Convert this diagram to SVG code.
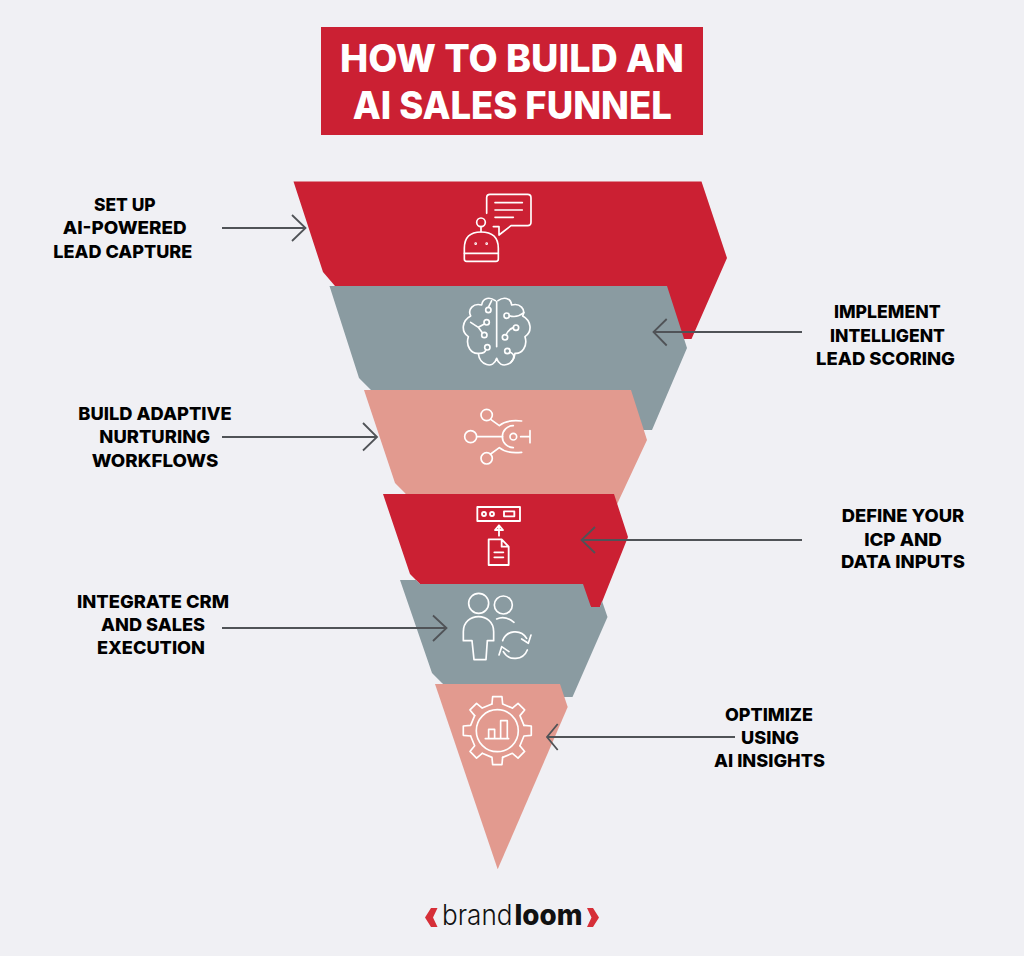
<svg xmlns="http://www.w3.org/2000/svg" xmlns:xlink="http://www.w3.org/1999/xlink" width="1024" height="956" viewBox="0 0 1024 956">
<style>
.title{font:800 38px Inter,"Liberation Sans",sans-serif;fill:#fff;text-anchor:middle}
.lbl{font:800 18px Inter,"Liberation Sans",sans-serif;fill:#000;text-anchor:middle}
.red{fill:#cb2033}.gray{fill:#8a9ba1}.sal{fill:#e29a8f}
.ic{fill:none;stroke:#fff;stroke-width:5;stroke-linecap:round;stroke-linejoin:round}
.ar{fill:none;stroke:#505357;stroke-width:1.8}
</style>
<defs>
<path id="tooth" d="M-16,-80 L-14,-102 H14 L16,-80 L45.25,-67.9"/>
</defs>
<rect width="1024" height="956" fill="#f0f0f4"/>
<g id="title">
<rect x="321" y="27" width="382" height="108" fill="#cb2033"/>
<text class="title" x="512" y="71.700" textLength="344" lengthAdjust="spacingAndGlyphs">HOW TO BUILD AN</text>
<text class="title" x="512.300" y="118.500" textLength="319" lengthAdjust="spacingAndGlyphs">AI SALES FUNNEL</text>
</g>
<g id="node-capture">
<polygon class="red" points="293.5,181.500 701.500,181.500 727,258 691.500,339 683,339 667,300 340,300 335,286 323,272"/>
<g class="ic" transform="translate(450 185) scale(.3333)">
<path d="M110,85 V38 Q110,28 120,28 H233 Q243,28 243,38 V112 Q243,122 233,122 H183 L147,150 V125 H130"/>
<path d="M135,53 H217 M135,75 H217 M135,97 H190 M93,125 V140 M43,205 H145"/>
<circle cx="93" cy="112" r="13"/>
<path d="M43,190 Q43,141 93,141 Q145,141 145,190 V222 Q145,229 138,229 H50 Q43,229 43,222 Z"/>
<circle cx="77" cy="176" r="1.500"/><circle cx="110" cy="176" r="1.500"/>
</g>
</g>
<g id="node-scoring">
<polygon class="gray" points="329.5,286 667,286 687,348 652,430 643,430 625,400 380,400 371,390 359,378"/>
<g class="ic" transform="translate(450 290) scale(.3333)">
<path d="M140,35 V170"/>
<path d="M136,32 C120,20 98,22 95,45 C70,38 52,58 62,78 C36,92 32,125 55,140 C46,170 65,192 85,190 C88,225 130,240 140,205 C150,240 192,225 195,190 C215,192 234,170 225,140 C248,125 244,92 218,78 C228,58 210,38 185,45 C182,22 160,20 144,32"/>
<circle cx="115" cy="60" r="8"/><path d="M115,52 L125,32"/>
<circle cx="110" cy="97" r="8"/><path d="M103,102 L85,112 L62,97 M85,112 L97,128"/>
<circle cx="103" cy="135" r="8"/>
<circle cx="112" cy="172" r="8"/><path d="M108,179 Q105,190 88,190"/>
<circle cx="170" cy="77" r="8"/><path d="M178,77 Q200,85 222,68"/>
<circle cx="198" cy="113" r="8"/><path d="M190,113 Q175,118 168,135"/>
<circle cx="165" cy="142" r="8"/>
<circle cx="172" cy="183" r="8"/><path d="M179,186 C195,192 195,205 182,218"/>
</g>
</g>
<g id="node-nurture">
<polygon class="sal" points="364,390 631,390 647,440 612,515 420,515 405,493 395,483"/>
<g class="ic" transform="translate(450 290) scale(.3333)">
<circle cx="110" cy="375" r="17"/><circle cx="62" cy="440" r="18"/><circle cx="110" cy="505" r="17"/>
<path d="M122,388 L148,407 Q170,388 215,393 M80,440 H158 M122,492 L148,473 Q170,492 215,487"/>
<circle cx="190" cy="440" r="10"/>
<path d="M190,407 A33,33 0 0 0 190,473 M212,440 H240 M240,422 V458"/>
</g>
</g>
<g id="node-icp">
<polygon class="red" points="383,494 614,494 628,537 600,607 591,607 575,590 425,590 420,584 410,574"/>
<g class="ic" transform="translate(450 495) scale(.3333)" style="stroke-width:5.5">
<rect x="82" y="36" width="128" height="42"/>
<circle cx="102" cy="57" r="6"/><circle cx="126" cy="57" r="6"/>
<rect x="162" y="49" width="31" height="15"/>
<path d="M147,122 V95 M135,105 L147,91 L159,105 Z"/>
<path d="M116,133 H155 L176,155 V210 H116 Z M155,133 V155 H176 M133,172 H160 M133,187 H160"/>
</g>
</g>
<g id="node-crm">
<polygon class="gray" points="400,580 416,580 420,584 583,584 591,607 600,607 602,601 607.500,617 572.500,697 563,697 545,690 450,690 442,683 432,673"/>
<g class="ic" transform="translate(450 495) scale(.3333)">
<circle cx="86" cy="325" r="30"/><circle cx="160" cy="330" r="27"/>
<path d="M140,372 Q165,360 192,382"/>
<path d="M72,494 H108 L112,437 H131 V410 C131,350 40,350 40,410 V437 H66 Z"/>
<path d="M158,437 A40,40 0 0 1 230,430 M243,420 L235,445 L215,432 M232,465 A40,40 0 0 1 160,470 M147,480 L155,455 L177,470"/>
</g>
</g>
<g id="node-optimize">
<polygon class="sal" points="435,684 560,684 567.700,707 497.700,869.300"/>
<g transform="translate(497.300 730.700) scale(.3333)" class="ic">
<use xlink:href="#tooth" href="#tooth"/>
<use href="#tooth" transform="rotate(45)"/><use href="#tooth" transform="rotate(90)"/><use href="#tooth" transform="rotate(135)"/>
<use href="#tooth" transform="rotate(180)"/><use href="#tooth" transform="rotate(225)"/><use href="#tooth" transform="rotate(270)"/><use href="#tooth" transform="rotate(315)"/>
<circle r="63"/>
<path d="M-36,24 H34 M-26,24 V-4 H-8 V24 M10,24 V-30 H30 V24"/>
</g>
</g>
<g id="connectors">
<path class="ar" d="M222,228 H305 M292,215 L305.500,228 L292,241"/>
<path class="ar" d="M802,332 H654 M666.700,319 L653.500,332 L666.700,345.500"/>
<path class="ar" d="M222,437 H376 M363,423 L377,437 L363,450.500"/>
<path class="ar" d="M802,540 H582 M595,527 L581.500,540 L595,553"/>
<path class="ar" d="M222,628 H446 M433,615.500 L446.500,628 L433,641"/>
<path class="ar" d="M735,737 H548 M557.700,724 L547,737 L557.700,750"/>
</g>
<g id="labels">
<text class="lbl" x="124.800" y="211" textLength="61.700" lengthAdjust="spacingAndGlyphs">SET UP</text>
<text class="lbl" x="124.700" y="234.300" textLength="124" lengthAdjust="spacingAndGlyphs">AI-POWERED</text>
<text class="lbl" x="122.800" y="257.700" textLength="139" lengthAdjust="spacingAndGlyphs">LEAD CAPTURE</text>
<text class="lbl" x="887.300" y="318.300" textLength="106.700" lengthAdjust="spacingAndGlyphs">IMPLEMENT</text>
<text class="lbl" x="887.500" y="341.500" textLength="115" lengthAdjust="spacingAndGlyphs">INTELLIGENT</text>
<text class="lbl" x="885.500" y="364.700" textLength="139" lengthAdjust="spacingAndGlyphs">LEAD SCORING</text>
<text class="lbl" x="155" y="420" textLength="153.400" lengthAdjust="spacingAndGlyphs">BUILD ADAPTIVE</text>
<text class="lbl" x="154.700" y="443.300" textLength="110.700" lengthAdjust="spacingAndGlyphs">NURTURING</text>
<text class="lbl" x="155" y="466.700" textLength="126.600" lengthAdjust="spacingAndGlyphs">WORKFLOWS</text>
<text class="lbl" x="903" y="522.300" textLength="122.600" lengthAdjust="spacingAndGlyphs">DEFINE YOUR</text>
<text class="lbl" x="903" y="545.600" textLength="77.700" lengthAdjust="spacingAndGlyphs">ICP AND</text>
<text class="lbl" x="903" y="568.300" textLength="124" lengthAdjust="spacingAndGlyphs">DATA INPUTS</text>
<text class="lbl" x="153" y="608" textLength="152" lengthAdjust="spacingAndGlyphs">INTEGRATE CRM</text>
<text class="lbl" x="153" y="631" textLength="104" lengthAdjust="spacingAndGlyphs">AND SALES</text>
<text class="lbl" x="151" y="654" textLength="108" lengthAdjust="spacingAndGlyphs">EXECUTION</text>
<text class="lbl" x="769" y="721" textLength="88" lengthAdjust="spacingAndGlyphs">OPTIMIZE</text>
<text class="lbl" x="770" y="744" textLength="58" lengthAdjust="spacingAndGlyphs">USING</text>
<text class="lbl" x="769.500" y="767" textLength="111" lengthAdjust="spacingAndGlyphs">AI INSIGHTS</text>
</g>
<g id="logo">
<polygon fill="#d62f38" points="437.500,908 433,917.500 437.500,927 431,927 425,917.500 431,908"/>
<polygon fill="#d62f38" points="587,908 591.500,917.500 587,927 593,927 599,917.500 593,908"/>
<text x="442" y="925" font-family="Inter,'Liberation Sans',sans-serif" font-weight="300" font-size="28" fill="#111" textLength="70.500" lengthAdjust="spacingAndGlyphs">brand</text>
<text x="514.500" y="925" font-family="Inter,'Liberation Sans',sans-serif" font-weight="800" font-size="28" fill="#111" textLength="68" lengthAdjust="spacingAndGlyphs">loom</text>
</g>
</svg>
